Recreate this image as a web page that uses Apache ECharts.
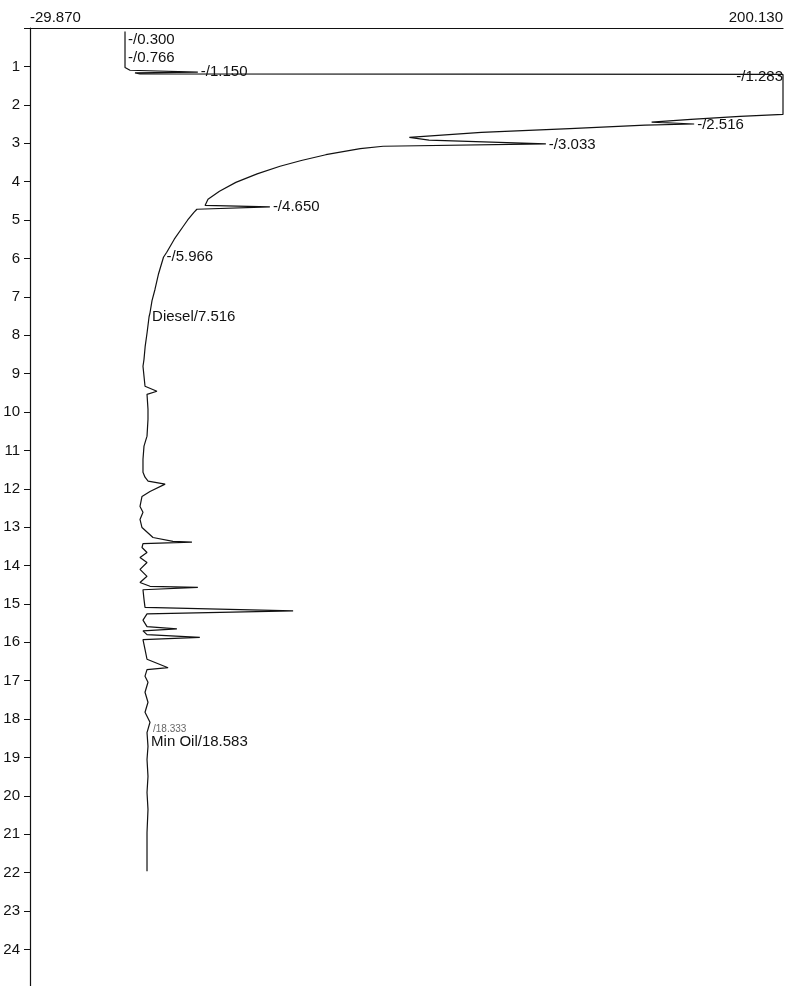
<!DOCTYPE html>
<html>
<head>
<meta charset="utf-8">
<title>Chromatogram</title>
<script src="https://cdn.jsdelivr.net/npm/echarts@6.0.0/dist/echarts.min.js"></script>
<style>
  html, body { margin: 0; padding: 0; background: #fff; }
  #chart { width: 787px; height: 986px; }
</style>
</head>
<body>
<div id="chart"></div>
<script>
// retention time (min) and detector signal
const traceTime = [
  0.09, 1.03, 1.10, 1.15, 1.17, 1.195, 1.21, 2.25, 2.30, 2.38, 2.45, 2.50, 2.53, 2.62, 2.72, 2.85,
  2.92, 3.02, 3.08, 3.14, 3.30, 3.45, 3.60, 3.80, 4.02, 4.25, 4.46, 4.62, 4.66, 4.72, 4.80, 5.00,
  5.17, 5.50, 5.84, 5.97, 6.40, 6.81, 7.10, 7.41, 7.52, 7.93, 8.30, 8.63, 8.81, 9.33, 9.46, 9.54,
  9.93, 10.19, 10.63, 10.89, 11.23, 11.57, 11.70,
  11.80, 11.88, 12.07, 12.20, 12.46, 12.61, 12.80, 13.01, 13.27, 13.37, 13.39, 13.43, 13.53, 13.66,
  13.79, 13.92, 14.10, 14.28, 14.44, 14.54, 14.57, 14.63, 14.88, 15.09, 15.18, 15.26, 15.42, 15.59,
  15.65, 15.70, 15.80, 15.87, 15.93, 16.18, 16.44, 16.66, 16.71, 16.88, 17.04, 17.30, 17.56, 17.82,
  18.08, 18.35, 18.71, 19.05, 19.49, 19.91, 20.35, 20.95, 21.47, 21.96
]
const traceSignal = [
  -0.85, -0.85, 0.67, 21.4, 2.2, 3.7, 200.13, 200.13, 187, 172, 160, 173, 158, 135, 108, 86,
  92, 127.7, 78, 71, 60.5, 53, 46.5, 39.5, 33, 28, 24.5, 23.6, 43.4, 21.1, 20.2, 18.3,
  16.9, 14.2, 11.9, 10.9, 9.4, 8.3, 7.4, 6.8, 6.5, 5.9, 5.3, 4.95, 4.64, 5.26, 8.9, 5.87,
  6.17, 6.17, 5.87, 4.95, 4.64, 4.64, 5.26,
  6.2, 11.4, 6.78, 4.34, 3.73, 4.64, 3.73, 4.34, 7.7, 13.8, 19.6, 4.64, 4.34, 5.87,
  3.73, 5.87, 3.73, 5.87, 3.73, 6.78, 21.4, 4.64, 4.95, 5.26, 50.5, 5.87, 4.64, 5.87,
  15.0, 4.64, 5.87, 22.0, 4.64, 5.26, 5.87, 12.3, 5.87, 5.26, 6.17, 5.26, 6.17, 5.26,
  6.78, 5.87, 6.17, 5.87, 6.17, 5.87, 6.17, 5.87, 5.87, 5.87
]

// peak annotations
const peakTimes = [0.300, 0.766, 1.150, 1.283, 2.516, 3.033, 4.650, 5.966, 7.516, 18.333, 18.583]
const peakNames = ['', '', '', '', '', '', '', '', 'Diesel', '', 'Min Oil']
const peakSignal = [-0.85, -0.85, 21.4, 200.13, 173, 127.7, 43.4, 10.9, 6.5, 6.78, 6.2]

const signalMin = -29.87
const signalMax = 200.13

const font = 'Liberation Sans, Arial, sans-serif'
const ink = '#111'

const chart = echarts.init(document.getElementById('chart'))

const peakData = peakTimes.map((t, i) => {
  const name = peakNames[i]
  const item = { value: [peakSignal[i], t], name: (name ? name : '-') + '/' + t.toFixed(3) }
  if (t === 1.283) {
    item.label = { position: 'left', distance: 0 }
  }
  if (t === 18.333) {
    item.name = '/' + t.toFixed(3)
    item.label = { fontSize: 10, color: '#666', offset: [0, -3] }
  }
  return item
})

chart.setOption({
  animation: false,
  backgroundColor: '#ffffff',
  grid: { left: 30, right: 4, top: 28, height: 958 },
  xAxis: {
    type: 'value',
    position: 'top',
    min: signalMin,
    max: signalMax,
    interval: signalMax - signalMin,
    axisLine: { show: true, onZero: false, lineStyle: { color: ink, width: 1.2 } },
    axisTick: { show: false },
    splitLine: { show: false },
    axisLabel: {
      showMinLabel: true,
      showMaxLabel: true,
      alignMinLabel: 'left',
      alignMaxLabel: 'right',
      margin: 3,
      fontSize: 15,
      fontFamily: font,
      color: ink,
      formatter: v => v.toFixed(3)
    }
  },
  yAxis: {
    type: 'value',
    inverse: true,
    min: 0,
    max: 24.95,
    interval: 1,
    axisLine: { show: true, onZero: false, lineStyle: { color: ink, width: 1.2 } },
    axisTick: { show: true, length: 6, lineStyle: { color: ink } },
    splitLine: { show: false },
    axisLabel: {
      margin: 10,
      fontSize: 15,
      fontFamily: font,
      color: ink,
      showMaxLabel: false,
      formatter: v => (v === 0 || v % 1 !== 0) ? '' : String(v)
    }
  },
  series: [
    {
      type: 'line',
      data: traceTime.map((t, i) => [traceSignal[i], t]),
      showSymbol: false,
      clip: false,
      lineStyle: { color: ink, width: 1.2 },
      z: 3
    },
    {
      type: 'scatter',
      data: peakData,
      symbolSize: 0,
      clip: false,
      itemStyle: { opacity: 1 },
      label: {
        show: true,
        position: 'right',
        distance: 3,
        fontSize: 15,
        fontFamily: font,
        color: ink,
        opacity: 1,
        formatter: p => p.name
      },
      z: 4
    }
  ]
})
</script>
</body>
</html>
